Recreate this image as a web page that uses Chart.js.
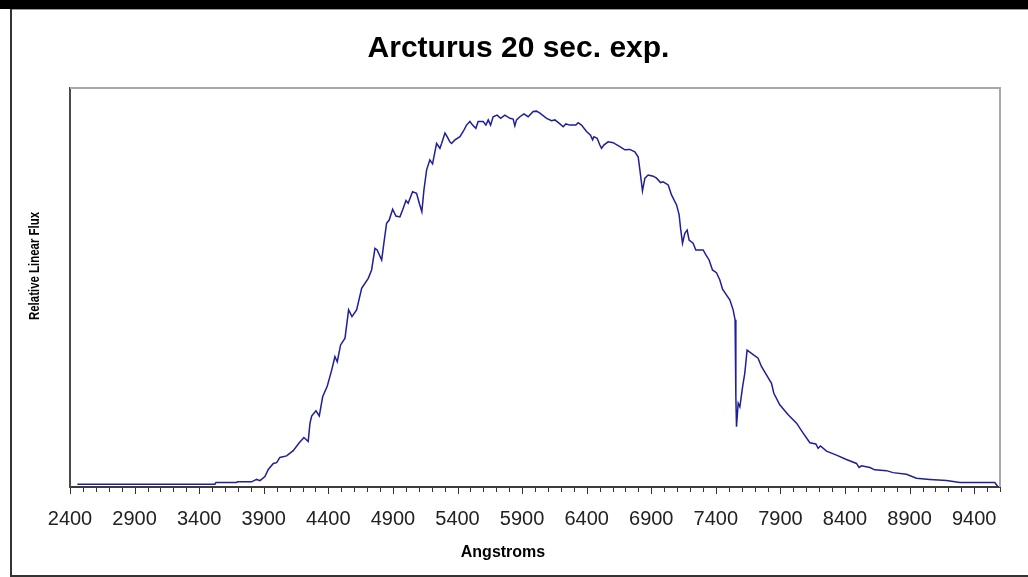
<!DOCTYPE html>
<html>
<head>
<meta charset="utf-8">
<title>Arcturus 20 sec. exp.</title>
<script src="https://cdn.jsdelivr.net/npm/chart.js@4.4.1/dist/chart.umd.min.js"></script>
<style>
  html, body { margin: 0; padding: 0; background: #ffffff; }
  #wrap { width: 1028px; height: 577px; }
</style>
</head>
<body>
<div id="wrap"><canvas id="spec" width="1028" height="577"></canvas></div>
<script>
// Spectrum of Arcturus, 20 second exposure
const chartTitle = 'Arcturus 20 sec. exp.';
const xAxisTitle = 'Angstroms';
const yAxisTitle = 'Relative Linear Flux';

// Wavelength axis range and tick spacing (Angstroms)
const xMin = 2400;
const xMax = 9600;
const minorStep = 100;
const labelStep = 500;

// Wavelength samples (Angstroms)
const wavelengths = [
  2457, 3522, 3530, 3690, 3696, 3806, 3845, 3871, 3909, 3935,
  3974, 4000, 4025, 4077, 4128, 4175, 4211, 4244, 4258, 4271,
  4304, 4330, 4356, 4392, 4426, 4451, 4469, 4495, 4529, 4557,
  4583, 4619, 4658, 4709, 4735, 4761, 4778, 4813, 4830, 4851,
  4871, 4898, 4923, 4954, 4975, 5001, 5018, 5052, 5083, 5104,
  5124, 5140, 5161, 5186, 5207, 5238, 5264, 5277, 5303, 5320,
  5341, 5354, 5380, 5419, 5444, 5470, 5496, 5517, 5542, 5560,
  5599, 5620, 5638, 5656, 5676, 5707, 5734, 5767, 5806, 5831,
  5844, 5857, 5883, 5914, 5947, 5986, 6012, 6038, 6090, 6128,
  6154, 6193, 6218, 6239, 6270, 6316, 6334, 6360, 6399, 6430,
  6446, 6456, 6481, 6502, 6515, 6533, 6566, 6605, 6657, 6696,
  6734, 6773, 6799, 6812, 6825, 6832, 6851, 6876, 6915, 6941,
  6972, 6992, 7031, 7057, 7096, 7116, 7127, 7142, 7160, 7178,
  7193, 7224, 7245, 7302, 7323, 7348, 7374, 7405, 7431, 7452,
  7483, 7508, 7534, 7549, 7555, 7560, 7573, 7586, 7607, 7624,
  7642, 7676, 7727, 7753, 7792, 7831, 7849, 7895, 7960, 8025,
  8076, 8128, 8174, 8192, 8210, 8257, 8334, 8411, 8489, 8509,
  8528, 8592, 8631, 8721, 8772, 8876, 8953, 9056, 9186, 9289,
  9560, 9585
];

// Relative flux at each wavelength
const flux = [
  0.7, 0.7, 1.1, 1.1, 1.3, 1.3, 1.9, 1.6, 2.6, 4.4,
  5.9, 6.1, 7.4, 7.8, 9.1, 11.1, 12.4, 11.4, 16.0, 17.8,
  19.1, 17.8, 22.6, 25.3, 29.3, 32.7, 31.4, 35.6, 37.3, 44.4,
  42.7, 44.4, 49.8, 52.3, 54.4, 59.8, 59.4, 56.9, 61.1, 66.1,
  66.9, 69.6, 67.9, 67.7, 69.4, 71.8, 71.1, 74.0, 73.6, 71.1,
  69.0, 74.4, 79.5, 82.0, 81.0, 86.1, 84.9, 86.1, 88.7, 87.8,
  86.5, 86.1, 87.0, 87.8, 89.1, 90.7, 91.6, 90.7, 89.9, 91.6,
  91.6, 90.7, 92.0, 90.7, 92.8, 93.2, 92.4, 93.2, 92.4, 92.2,
  90.5, 92.0, 92.8, 93.5, 92.8, 94.1, 94.2, 93.7, 92.4, 91.8,
  92.0, 91.0, 90.3, 91.0, 90.7, 90.7, 91.3, 90.7, 89.1, 88.2,
  87.0, 87.8, 87.4, 85.7, 84.9, 85.7, 86.5, 86.3, 85.3, 84.5,
  84.6, 84.0, 82.7, 79.5, 76.1, 74.2, 77.4, 78.2, 77.9, 77.4,
  76.3, 76.5, 75.7, 73.2, 70.7, 68.2, 64.8, 61.1, 63.6, 64.4,
  61.9, 61.1, 59.4, 59.4, 58.2, 56.9, 54.4, 53.7, 51.9, 49.6,
  48.1, 46.9, 44.4, 41.9, 22.6, 15.1, 21.0, 20.1, 25.1, 28.5,
  34.3, 33.5, 32.3, 30.2, 28.1, 26.0, 23.5, 20.6, 18.1, 16.0,
  13.5, 11.1, 10.8, 9.7, 10.3, 9.0, 8.0, 6.9, 5.9, 4.9,
  5.3, 4.9, 4.3, 4.1, 3.6, 3.2, 2.2, 1.9, 1.6, 1.1,
  1.1, 0.0
];

const points = wavelengths.map((w, i) => ({ x: w, y: flux[i] }));

// Page frame, plot-area edges, axis tick marks and axis titles
const framePlugin = {
  id: 'frame',
  beforeDraw(chart) {
    const ctx = chart.ctx;
    ctx.save();
    ctx.fillStyle = '#ffffff';
    ctx.fillRect(0, 0, chart.width, chart.height);
    // dark band across the top
    ctx.fillStyle = '#000000';
    ctx.fillRect(0, 0, chart.width, 9);
    // outer frame
    ctx.fillStyle = '#9a9a9a';
    ctx.fillRect(10, 9, chart.width - 10, 1);
    ctx.fillStyle = '#333333';
    ctx.fillRect(10, 9, 2, chart.height - 9);
    ctx.fillRect(10, chart.height - 2, chart.width - 10, 2);
    ctx.restore();
  },
  afterDraw(chart) {
    const ctx = chart.ctx;
    const area = chart.chartArea;
    const xs = chart.scales.x;
    ctx.save();
    // light top and right edges of the plot area
    ctx.fillStyle = '#a8a8a8';
    ctx.fillRect(area.left, area.top - 1, area.right - area.left + 1, 2);
    ctx.fillRect(area.right - 1, area.top - 1, 2, area.bottom - area.top + 1);
    // tick marks below the wavelength axis
    ctx.strokeStyle = '#333333';
    ctx.lineWidth = 1;
    xs.ticks.forEach(t => {
      const px = Math.round(xs.getPixelForValue(t.value)) + 0.5;
      const major = (t.value - xMin) % labelStep === 0;
      ctx.beginPath();
      ctx.moveTo(px, area.bottom + 1);
      ctx.lineTo(px, area.bottom + (major ? 7 : 5));
      ctx.stroke();
    });
    // axis titles
    ctx.fillStyle = '#000000';
    ctx.textAlign = 'center';
    ctx.textBaseline = 'middle';
    ctx.font = 'bold 16px "Liberation Sans", Arial, sans-serif';
    ctx.fillText(xAxisTitle, 503, 553);
    ctx.translate(34.5, 266);
    ctx.rotate(-Math.PI / 2);
    ctx.font = 'bold 15px "Liberation Sans", Arial, sans-serif';
    const w = ctx.measureText(yAxisTitle).width;
    ctx.scale(108 / w, 1);
    ctx.fillText(yAxisTitle, 0, 0);
    ctx.restore();
  }
};

new Chart(document.getElementById('spec'), {
  type: 'line',
  data: {
    datasets: [{
      label: 'Flux',
      data: points,
      borderColor: '#1f1f99',
      borderWidth: 1.5,
      pointRadius: 0,
      tension: 0,
      fill: false
    }]
  },
  options: {
    responsive: false,
    animation: false,
    events: [],
    layout: { padding: { left: 37, right: 28, top: 0, bottom: 0 } },
    plugins: {
      legend: { display: false },
      tooltip: { enabled: false },
      title: {
        display: true,
        text: chartTitle,
        color: '#000000',
        font: { family: '"Liberation Sans", Arial, sans-serif', size: 30, weight: 'bold' },
        padding: { top: 31, bottom: 21 }
      }
    },
    scales: {
      x: {
        type: 'linear',
        min: xMin,
        max: xMax,
        afterFit(scale) { scale.height = 90; },
        grid: { display: false, drawTicks: false },
        border: { display: true, color: '#3c3c3c', width: 2 },
        ticks: {
          stepSize: minorStep,
          includeBounds: false,
          autoSkip: false,
          maxRotation: 0,
          padding: 20,
          color: '#222222',
          font: { family: '"Liberation Sans", Arial, sans-serif', size: 20 },
          callback: v => ((v - xMin) % labelStep === 0 ? String(v) : '')
        }
      },
      y: {
        type: 'linear',
        min: 0,
        max: 100,
        afterFit(scale) { scale.width = 33; },
        grid: { display: false, drawTicks: false },
        border: { display: true, color: '#4a4a4a', width: 2 },
        ticks: { display: false }
      }
    }
  },
  plugins: [framePlugin]
});
</script>
</body>
</html>
